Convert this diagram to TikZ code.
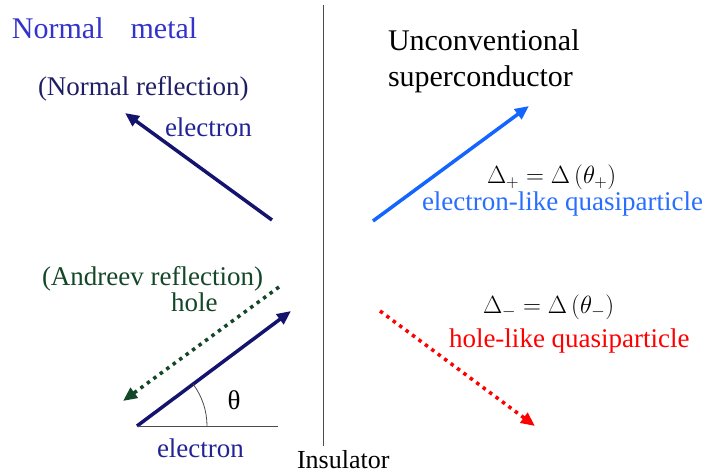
\documentclass[tikz,border=0pt]{standalone}
\usepackage{fontspec}
\setmainfont{Liberation Serif}
\usetikzlibrary{arrows.meta,calc}
\definecolor{nmblue}{RGB}{51,51,204}
\definecolor{navytext}{RGB}{30,30,100}
\definecolor{elcol}{RGB}{35,35,150}
\definecolor{navyarrow}{RGB}{20,20,110}
\definecolor{dkgreen}{RGB}{20,70,40}
\definecolor{qpblue}{RGB}{20,100,255}
\definecolor{qptext}{RGB}{40,110,255}
\definecolor{qpred}{RGB}{255,0,0}
\tikzset{
  lbl/.style={anchor=base west, inner sep=0pt, outer sep=0pt},
  big/.style={font=\fontsize{30}{36}\selectfont},
  mid/.style={font=\fontsize{27}{32}\selectfont},
  mathlbl/.style={font=\fontsize{24}{28}\selectfont},
  solidarrow/.style={line width=3.5pt, -{Triangle[length=14pt,width=12pt]}},
  dotarrow/.style={line width=3.5pt, dash pattern=on 3.5pt off 4.5pt, -{Triangle[length=14pt,width=12pt]}},
}
\begin{document}
\begin{tikzpicture}[x=1pt,y=-1pt]
\useasboundingbox (0,0) rectangle (702,476);
% insulator line
\coordinate (itop) at (323,5);
\coordinate (ibot) at (323,446);
\draw[line width=1pt, black!70] (itop) -- (ibot);
% texts
\node[lbl, big, text=nmblue] (nm) at (12,39) {Normal\hspace{0.9em}metal};
\node[lbl, mid, text=navytext] (nr) at (38,96) {(Normal reflection)};
\node[lbl, mid, text=elcol] (el1) at (165,137) {electron};
\node[lbl, mid, text=dkgreen] (ar) at (42,285) {(Andreev reflection)};
\node[lbl, mid, text=dkgreen] (hole) at (171,311) {hole};
\node[anchor=center, inner sep=0pt, mid] (theta) at (234,400) {θ};
\node[lbl, mid, text=elcol] (el2) at (157,457) {electron};
\node[lbl, font=\fontsize{26}{30}\selectfont] (ins) at (297,468) {Insulator};
\node[lbl, big] (uc) at (388,51) {Unconventional};
\node[lbl, big] (sc) at (388,87) {superconductor};
\node[lbl, mathlbl] (dp) at (487,184) {$\Delta_+ = \Delta\left(\theta_+\right)$};
\node[lbl, mid, text=qptext] (elq) at (422,211) {electron-like quasiparticle};
\node[lbl, mathlbl] (dm) at (483,313) {$\Delta_- = \Delta\left(\theta_-\right)$};
\node[lbl, mid, text=qpred] (hlq) at (449,347) {hole-like quasiparticle};
% arrows
\coordinate (nrS) at (272,220); \coordinate (nrE) at (125,113);
\draw[solidarrow, navyarrow] (nrS) -- (nrE);
\coordinate (arS) at (279,287); \coordinate (arE) at (123,401);
\draw[dotarrow, dkgreen] (arS) -- (arE);
\coordinate (o) at (137,426); \coordinate (inE) at (291,311);
\draw[solidarrow, navyarrow] (o) -- (inE);
\coordinate (hx) at (278,426);
\draw[line width=0.8pt, black!70] (o) -- (hx);
\draw[line width=0.8pt, black!70] ($(o)+(70,0)$) arc[start angle=0, end angle=-36.7, radius=70];
\coordinate (bS) at (373,221); \coordinate (bE) at (529,106);
\draw[solidarrow, qpblue] (bS) -- (bE);
\coordinate (rS) at (380,311); \coordinate (rE) at (535,426);
\draw[dotarrow, qpred] (rS) -- (rE);
\end{tikzpicture}
\end{document}
